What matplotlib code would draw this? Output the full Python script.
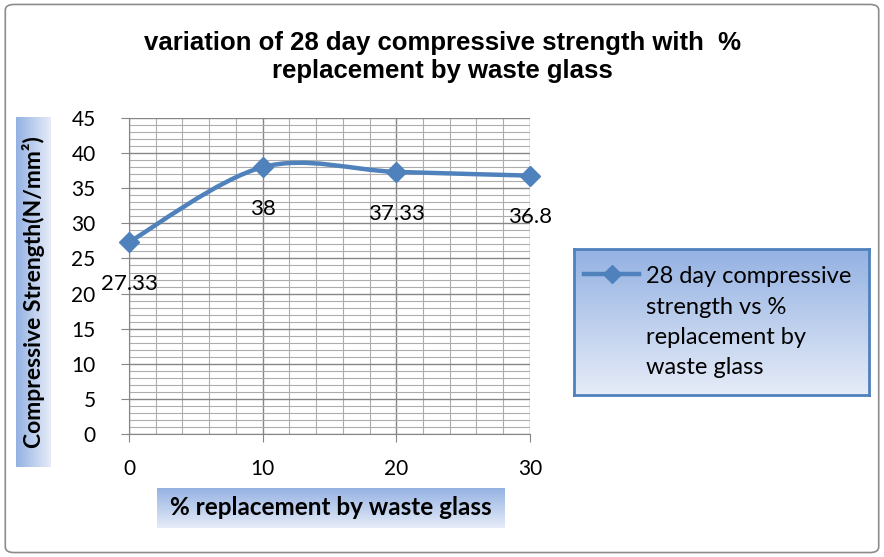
import numpy as np
import matplotlib.pyplot as plt
from matplotlib.path import Path
from matplotlib.patches import PathPatch, FancyBboxPatch
from matplotlib.colors import LinearSegmentedColormap

plt.rcParams['font.family'] = ['Lato', 'DejaVu Sans']

# data
replacement = [0, 10, 20, 30]
strength = [27.33, 38, 37.33, 36.8]
point_labels = ["27.33", "38", "37.33", "36.8"]

blue = "#4F81BD"
grad = LinearSegmentedColormap.from_list("g", ["#93B1E2", "#E6ECF8"])


def gradient_box(rect, vertical=True, edge=None):
    a = fig.add_axes(rect)
    g = np.linspace(0, 1, 256).reshape(-1, 1)
    if not vertical:
        g = g.T
    # origin upper: first row (dark) at top / first column at left
    a.imshow(g, cmap=grad, aspect="auto", extent=[0, 1, 0, 1])
    a.set_xlim(0, 1)
    a.set_ylim(0, 1)
    a.set_xticks([])
    a.set_yticks([])
    for s in a.spines.values():
        if edge:
            s.set_color(edge)
            s.set_linewidth(2)
        else:
            s.set_visible(False)
    return a


def smooth_path(xs, ys):
    # excel-like smooth line (catmull-rom -> cubic bezier)
    pts = np.column_stack([xs, ys]).astype(float)
    verts = [pts[0]]
    codes = [Path.MOVETO]
    n = len(pts)
    for i in range(n - 1):
        p0 = pts[i - 1] if i > 0 else pts[i]
        p1, p2 = pts[i], pts[i + 1]
        p3 = pts[i + 2] if i + 2 < n else pts[i + 1]
        c1 = p1 + (p2 - p0) / 6
        c2 = p2 - (p3 - p1) / 6
        verts += [c1, c2, p2]
        codes += [Path.CURVE4] * 3
    return Path(verts, codes)


fig = plt.figure(figsize=(8.84, 5.57), dpi=100)

# outer border
fig.patches.append(FancyBboxPatch((0.006, 0.008), 0.988, 0.984,
                                  boxstyle="round,pad=0,rounding_size=0.01",
                                  transform=fig.transFigure, fill=False,
                                  edgecolor="#8C8C8C", linewidth=1.2))

ax = fig.add_axes([0.1459, 0.2208, 0.4536, 0.5673])
ax.set_xlim(0, 30)
ax.set_ylim(0, 45)
ax.set_xticks([0, 10, 20, 30])
ax.set_yticks(range(0, 46, 5))
ax.set_xticks(np.arange(0, 31, 2), minor=True)
ax.set_yticks(range(0, 46, 1), minor=True)
ax.grid(which="major", color="#868686", linewidth=1)
ax.grid(which="minor", color="#ADADAD", linewidth=0.8)
ax.set_axisbelow(True)
ax.tick_params(which="minor", length=0)
ax.tick_params(which="major", direction="out", length=6, color="#868686",
               labelsize=15)
ax.tick_params(axis="y", pad=18)
ax.tick_params(axis="x", pad=12)
for s in ["top", "right"]:
    ax.spines[s].set_visible(False)
for s in ["left", "bottom"]:
    ax.spines[s].set_color("#868686")

ax.add_patch(PathPatch(smooth_path(replacement, strength), fill=False,
                       edgecolor=blue, linewidth=3.2, clip_on=False, zorder=3))
ax.plot(replacement, strength, linestyle="none", marker="D", markersize=10,
        color=blue, clip_on=False, zorder=4)
for xv, yv, t in zip(replacement, strength, point_labels):
    ax.annotate(t, (xv, yv), xytext=(0, -30), textcoords="offset points",
                ha="center", va="center", fontsize=16)

fig.text(0.5, 0.897, "variation of 28 day compressive strength with  %\nreplacement by waste glass",
         ha="center", va="center", fontsize=18.5, fontweight="bold",
         family="Liberation Sans", linespacing=1.22)

# y label box
yl = gradient_box([0.018, 0.162, 0.039, 0.628], vertical=False)
yl.text(0.5, 0.5, "Compressive Strength(N/mm²)", rotation=90, ha="center",
        va="center", fontsize=16.5, fontweight="bold", transform=yl.transAxes)

# x label box
xl = gradient_box([0.178, 0.052, 0.393, 0.072])
xl.text(0.5, 0.5, "% replacement by waste glass", ha="center", va="center",
        fontsize=17.5, fontweight="bold", transform=xl.transAxes)

# legend box
lg = gradient_box([0.649, 0.29, 0.334, 0.263], edge=blue)
lg.plot([0.035, 0.22], [0.83, 0.83], color=blue, linewidth=3.2)
lg.plot([0.13], [0.83], marker="D", markersize=9, color=blue)
lg.text(0.245, 0.5, "28 day compressive\nstrength vs %\nreplacement by\nwaste glass",
        ha="left", va="center", fontsize=17, linespacing=1.55, transform=lg.transAxes)

fig.savefig("out.png", dpi=100)
